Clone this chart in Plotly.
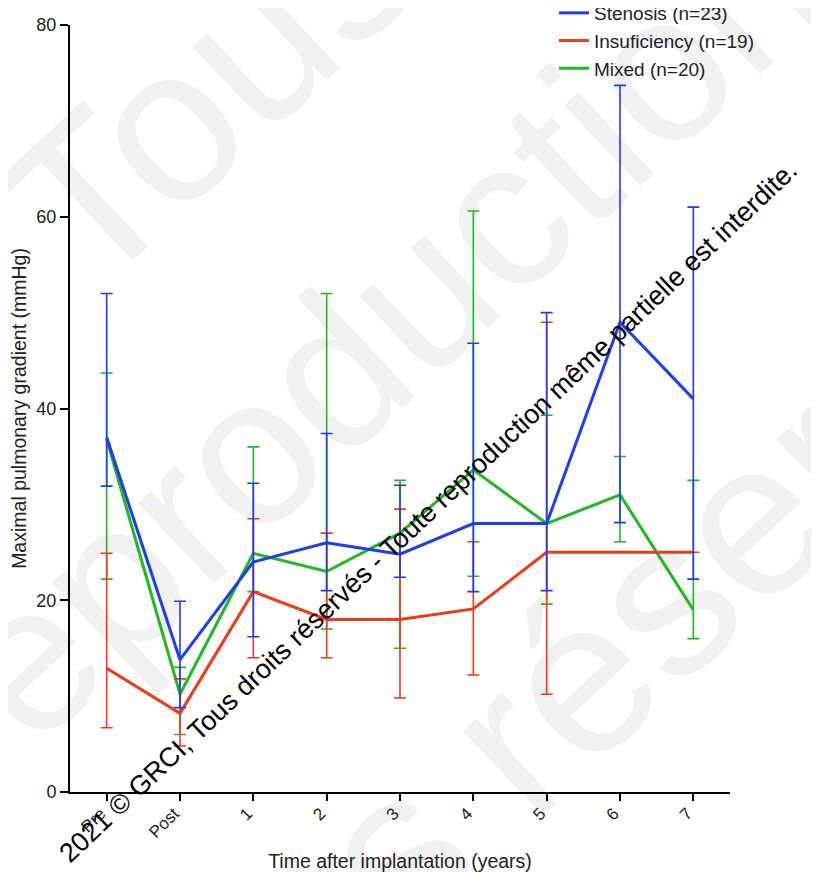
import math
import plotly.graph_objects as go

x_labels = ["Pre", "Post", "1", "2", "3", "4", "5", "6", "7"]
x_pos = list(range(len(x_labels)))

sten_mean = [37.0, 13.8, 24.0, 26.0, 24.8, 28.0, 28.0, 49.0, 41.0]
sten_upper = [52.0, 19.9, 32.2, 37.4, 32.0, 46.8, 50.0, 73.7, 61.0]
sten_lower = [31.9, 8.8, 16.2, 21.0, 22.4, 20.9, 21.0, 28.1, 22.2]

insuf_mean = [12.9, 8.2, 20.9, 18.0, 18.0, 19.1, 25.0, 25.0, 25.0]
insuf_upper = [24.9, 11.8, 28.5, 27.0, 29.5, 26.1, 49.0, None, None]
insuf_lower = [6.7, 4.8, 14.0, 14.0, 9.8, 12.2, 10.2, None, None]

mixed_mean = [36.8, 10.2, 24.9, 23.0, 27.0, 33.6, 28.0, 31.0, 19.0]
mixed_upper = [43.7, 13.0, 36.0, 52.0, 32.5, 60.6, 39.3, 35.0, 32.5]
mixed_lower = [22.2, 6.0, 20.9, 17.0, 15.0, 22.5, 19.6, 26.1, 16.0]

y_ticks = [0, 20, 40, 60, 80]

watermark = "2021 © GRCI, Tous droits réservés - Toute reproduction même partielle est interdite."
faint_words = ["Tous", "reproduction", "droits réservés"]

FONT = "Liberation Sans, Arial, sans-serif"
OFF = 8  # default page body margin
W, H = 819 - OFF, 872 - OFF
L, R, T, B = 70 - OFF, 89, 25 - OFF, 80
PW, PH = W - L - R, H - T - B


def px(x, y):
    """page pixel -> paper coords"""
    return (x - OFF - L) / PW, (H - B - (y - OFF)) / PH


def err(mean, upper, lower):
    plus = [None if u is None else u - m for m, u in zip(mean, upper)]
    minus = [None if l is None else m - l for m, l in zip(mean, lower)]
    return plus, minus


series = [
    ("Mixed (n=20)", mixed_mean, mixed_upper, mixed_lower, "#22b822", 3),
    ("Insuficiency (n=19)", insuf_mean, insuf_upper, insuf_lower, "#ee3a1a", 2),
    ("Stenosis (n=23)", sten_mean, sten_upper, sten_lower, "#1c3ef0", 1),
]

fig = go.Figure()
for name, m, u, l, c, rank in series:
    plus, minus = err(m, u, l)
    fig.add_trace(go.Scatter(
        x=x_pos, y=m, name=name, mode="lines",
        line=dict(color=c, width=3),
        legendrank=rank,
        error_y=dict(type="data", symmetric=False, array=plus, arrayminus=minus,
                     color=c, thickness=1.6, width=6),
    ))

# faint background watermark, drawn below the data as shape labels
ang = math.radians(43)
dx, dy = math.cos(ang), -math.sin(ang)
for txt, (cx, cy), size in zip(faint_words, [(195, 70), (345, 335), (555, 672)], [220, 210, 220]):
    x0, y0 = px(cx - dx, cy - dy)
    x1, y1 = px(cx + dx, cy + dy)
    fig.add_shape(type="line", xref="paper", yref="paper", x0=x0, y0=y0, x1=x1, y1=y1,
                  layer="below", line=dict(color="rgba(0,0,0,0)", width=1),
                  label=dict(text=txt, textangle=-43, textposition="middle",
                             xanchor="center", yanchor="middle",
                             font=dict(size=size, color="#f1f1f1", family=FONT)))

# foreground watermark
wx, wy = px(428, 512)
fig.add_annotation(
    text=watermark, x=wx, y=wy, xref="paper", yref="paper", showarrow=False,
    textangle=-43.5, font=dict(size=27, color="black", family=FONT),
)

lx, ly = px(554, -6)
fig.update_layout(
    width=W, height=H,
    margin=dict(l=L, r=R, t=T, b=B, autoexpand=False),
    paper_bgcolor="white", plot_bgcolor="rgba(0,0,0,0)",
    font=dict(family=FONT, color="black", size=16),
    showlegend=True,
    legend=dict(x=lx, y=ly, xanchor="left", yanchor="top",
                font=dict(size=19, color="#222"), bgcolor="rgba(0,0,0,0)",
                tracegroupgap=0, itemwidth=30),
    xaxis=dict(range=[-0.5, 8.5], tickmode="array", tickvals=x_pos, ticktext=x_labels,
               tickangle=-45, showline=True, linecolor="black", linewidth=2,
               ticks="outside", ticklen=7, tickwidth=2, tickcolor="black",
               showgrid=False, zeroline=False, ticklabelshift=-6, ticklabelstandoff=-4,
               tickfont=dict(size=17, color="#222"),
               title=dict(text="Time after implantation (years)",
                          font=dict(size=19.5, color="#222"), standoff=14)),
    yaxis=dict(range=[0, 80], tickmode="array", tickvals=y_ticks,
               showline=True, linecolor="black", linewidth=2,
               ticks="outside", ticklen=8, tickwidth=2, tickcolor="black",
               showgrid=False, zeroline=False, ticklabelstandoff=0,
               tickfont=dict(size=18, color="#222"),
               title=dict(text="Maximal pulmonary gradient (mmHg)",
                          font=dict(size=19.5, color="#222"), standoff=10)),
)

fig.write_html("out.html")
